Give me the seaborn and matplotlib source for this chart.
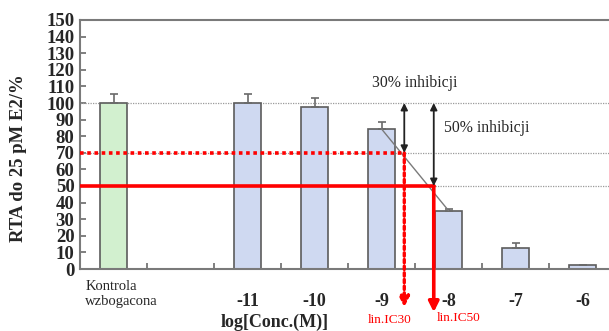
import numpy as np
import pandas as pd
import matplotlib
matplotlib.use("Agg")
import matplotlib.pyplot as plt
import seaborn as sns

# Category slots on the x axis (slot 1 is an empty gap after the control)
categories = ["Kontrola", "gap", "-11", "-10", "-9", "-8", "-7", "-6"]
tick_labels = ["", "", "-11", "-10", "-9", "-8", "-7", "-6"]
rta_values = [100.0, np.nan, 100.0, 97.8, 84.4, 35.2, 12.8, 2.6]
rta_errors = [5.2, np.nan, 5.5, 5.0, 4.2, 1.2, 3.0, 0.0]
y_ticks = list(range(0, 151, 10))
# Interpolated positions (in category slots) where the response hits 70% and 50%
ic30_pos, ic30_level = 4.34, 70
ic50_pos, ic50_level = 4.78, 50

sns.set_style("white")
plt.rcParams["font.family"] = ["Liberation Serif", "DejaVu Serif"]

df = pd.DataFrame({"cat": categories, "val": rta_values})
colors = {c: "#c9d6f7" for c in categories}
colors["Kontrola"] = "#cdf5c9"

fig = plt.figure(figsize=(6.09, 3.31), dpi=100)
ax = fig.add_axes([80 / 609, 1 - 269 / 331, 536 / 609, 249 / 331])

sns.barplot(data=df, x="cat", y="val", hue="cat", order=categories,
            palette=colors, legend=False, width=0.39,
            edgecolor="#5c5c5c", linewidth=1.2, ax=ax, zorder=2)

xs = np.arange(len(categories))
vals = np.array(rta_values)
errs = np.array(rta_errors)
ok = ~np.isnan(vals)
ax.errorbar(xs[ok], vals[ok], yerr=[np.zeros(ok.sum()), errs[ok]], fmt="none",
            ecolor="#6a6a6a", elinewidth=1.2, capsize=3, capthick=1.2, zorder=3)

ax.set_xlim(-0.5, 7.5)
ax.set_ylim(0, 150)
ax.set_yticks(y_ticks)
ax.set_yticklabels([str(t) for t in y_ticks], fontsize=13.5, fontweight="bold")
ax.set_xticks(xs)
ax.set_xticklabels(tick_labels, fontsize=13, fontweight="bold")
ax.set_xticks(xs[:-1] + 0.5, minor=True)
ax.tick_params(axis="x", which="major", length=0, pad=17)
ax.tick_params(axis="x", which="minor", direction="in", length=4, width=1.2,
               color="#6a6a6a", bottom=True)
ax.tick_params(axis="y", direction="in", length=4, width=1.2, color="#6a6a6a",
               left=True, pad=4)
for side in ["left", "bottom", "top"]:
    ax.spines[side].set_color("#7a7a7a")
    ax.spines[side].set_linewidth(1.5)
ax.spines["right"].set_visible(False)

ax.set_xlabel("log[Conc.(M)]", fontsize=13, fontweight="bold")
ax.xaxis.set_label_coords((275 - 80) / 536, -(322 - 269) / 249)
ax.xaxis.label.set_va("center")
ax.set_ylabel("RTA do 25 pM E2/%", fontsize=13.5, fontweight="bold")
ax.yaxis.set_label_coords(-(80 - 19) / 536, (269 - 158) / 249)
ax.yaxis.label.set_va("center")

ax.text(-0.42, -6.5, "Kontrola\nwzbogacona", fontsize=10.5, ha="left", va="top",
        linespacing=1.2)

# Reference levels
for lvl in (100, 70, 50):
    ax.axhline(lvl, color="#9a9a9a", lw=0.9, ls=(0, (1, 1)), zorder=1)

# Linear interpolation between the -9 and -8 responses
ax.plot([4, 5], [rta_values[4], rta_values[5]], color="#7a7a7a", lw=1.0, zorder=4)

red = "#ff0000"
ax.plot([-0.5, ic30_pos], [ic30_level, ic30_level], color=red, lw=2.6,
        ls=(0, (1, 1)), zorder=5, solid_capstyle="butt")
ax.plot([-0.5, ic50_pos], [ic50_level, ic50_level], color=red, lw=2.6, zorder=5)

ax.annotate("", xy=(ic30_pos, -23), xytext=(ic30_pos, ic30_level),
            annotation_clip=False,
            arrowprops=dict(arrowstyle="-|>,head_width=0.3,head_length=0.6",
                            color=red, lw=2.4, ls=(0, (1, 1)), shrinkA=0, shrinkB=0),
            zorder=5)
ax.annotate("", xy=(ic50_pos, -26), xytext=(ic50_pos, ic50_level),
            annotation_clip=False,
            arrowprops=dict(arrowstyle="-|>,head_width=0.3,head_length=0.6",
                            color=red, lw=2.6, shrinkA=0, shrinkB=0),
            zorder=5)

ax.text(ic30_pos - 0.54, -30.5, "lin.IC30", color=red, fontsize=9.5, ha="left",
        va="center", clip_on=False)
ax.text(ic50_pos + 0.05, -29.5, "lin.IC50", color=red, fontsize=9.5, ha="left",
        va="center", clip_on=False)

# Inhibition spans
for xpos, lvl in ((ic30_pos, ic30_level), (ic50_pos, ic50_level)):
    ax.annotate("", xy=(xpos, 100), xytext=(xpos, lvl),
                arrowprops=dict(arrowstyle="<|-|>,head_width=0.2,head_length=0.4",
                                color="#222222", lw=1.3, shrinkA=0, shrinkB=0),
                zorder=6)

ax.text(3.86, 112, "30% inhibicji", fontsize=11.3, ha="left", va="center")
ax.text(4.93, 85, "50% inhibicji", fontsize=11.3, ha="left", va="center")

fig.savefig("out.png", dpi=100)
